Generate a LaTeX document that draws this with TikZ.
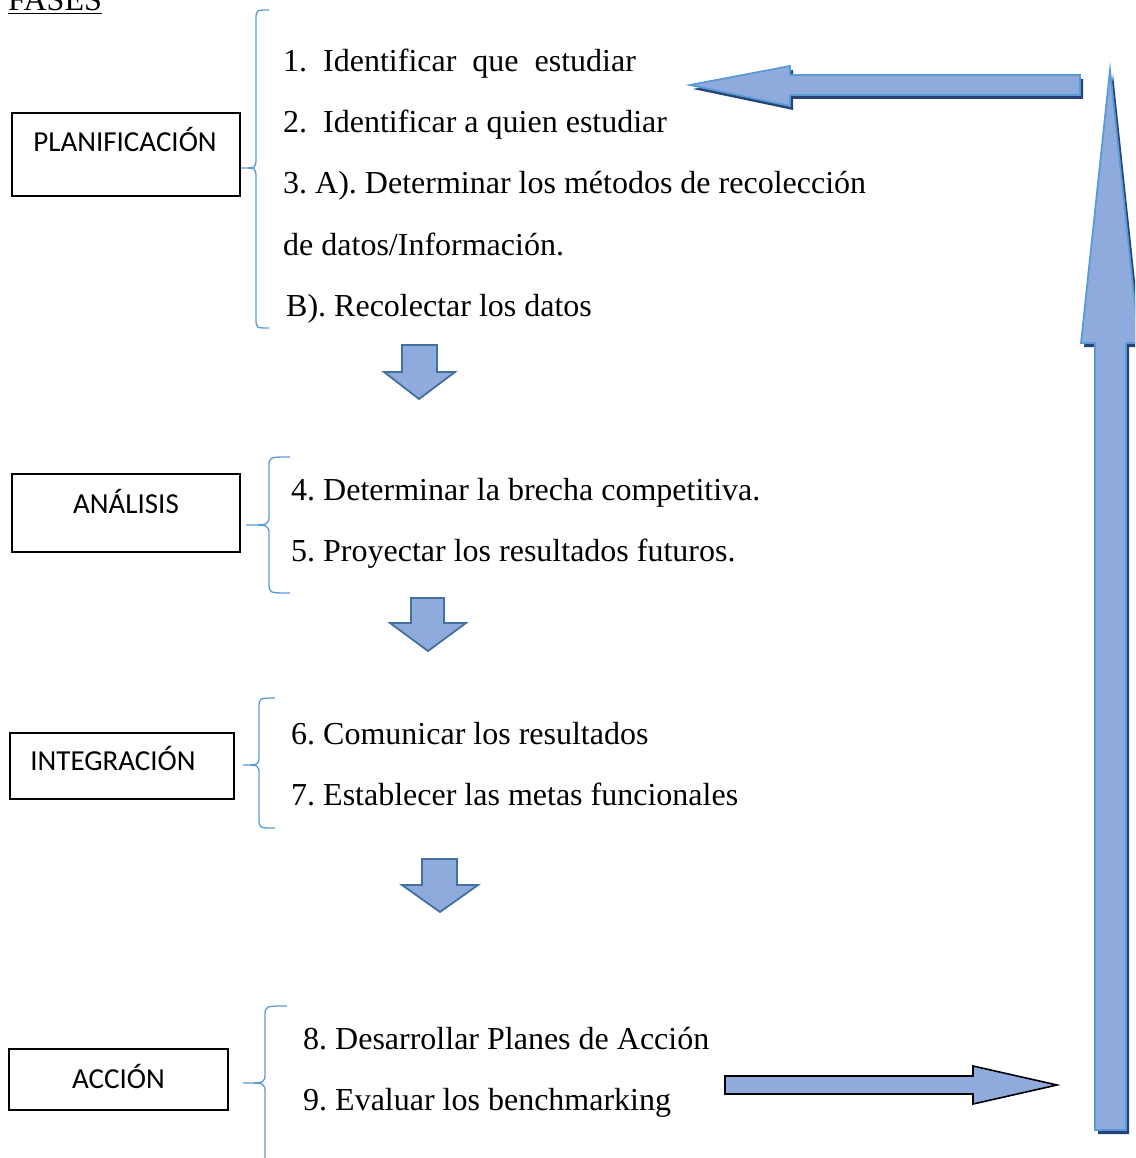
\documentclass[tikz,border=0pt]{standalone}
\usepackage{fontspec}
\setmainfont{Liberation Serif}
\newfontfamily\boxfont{Carlito}
\frenchspacing
\definecolor{arrowfill}{RGB}{143,170,220}
\definecolor{arrowline}{RGB}{91,155,213}
\definecolor{arrowshadow}{RGB}{38,68,120}
\definecolor{downline}{RGB}{65,113,156}
\definecolor{bracecol}{RGB}{91,155,213}
\tikzset{
  phasebox/.style={draw,line width=1.6pt,inner sep=0pt},
  phaselabel/.style={font=\boxfont\fontsize{29}{33}\selectfont,inner sep=0pt,anchor=base},
  steptext/.style={font=\fontsize{32}{36}\selectfont,inner sep=0pt,anchor=base west},
  phasebrace/.style={draw=bracecol,line width=1.3pt},
  downarrow/.style={fill=arrowfill,draw=downline,line width=1.8pt,line join=miter},
  blockarrow/.style={fill=arrowfill,draw=arrowline,line width=1.8pt,line join=miter},
}
\begin{document}
\begin{tikzpicture}[x=1pt,y=-1pt]
  \useasboundingbox (0,0) rectangle (1135,1158);
  \clip (0,0) rectangle (1135,1158);

  \node[font=\fontsize{32}{36}\selectfont,inner sep=0pt,anchor=base west] (fases) at (8,11) {\underline{FASES}};

  % phase boxes
  \node[phasebox,minimum width=228pt,minimum height=83pt] (plan) at (126,154.5) {};
  \node[phaselabel] (plantxt) at (125,152) {PLANIFICACIÓN};
  \node[phasebox,minimum width=228pt,minimum height=78pt] (anal) at (126,513) {};
  \node[phaselabel] (analtxt) at (126,513) {ANÁLISIS};
  \node[phasebox,minimum width=224pt,minimum height=66pt] (integ) at (122,766) {};
  \node[phaselabel] (integtxt) at (113,770) {INTEGRACIÓN};
  \node[phasebox,minimum width=219pt,minimum height=61pt] (accion) at (118.5,1079.5) {};
  \node[phaselabel] (acciontxt) at (118.5,1088) {ACCIÓN};

  % braces
  \draw[phasebrace] (269,10) .. controls (256,10) .. (256,20) -- (256,158) .. controls (256,168) .. (241,168)
    .. controls (256,168) .. (256,178) -- (256,318) .. controls (256,328) .. (269,328);
  \draw[phasebrace] (290,457) .. controls (269,457) .. (269,467) -- (269,515) .. controls (269,525) .. (246,525)
    .. controls (269,525) .. (269,535) -- (269,583) .. controls (269,593) .. (290,593);
  \draw[phasebrace] (275,698) .. controls (259,698) .. (259,708) -- (259,755) .. controls (259,765) .. (243,765)
    .. controls (259,765) .. (259,775) -- (259,818) .. controls (259,828) .. (275,828);
  \draw[phasebrace] (287,1006) .. controls (265,1006) .. (265,1016) -- (265,1073) .. controls (265,1083) .. (243,1083)
    .. controls (265,1083) .. (265,1093) -- (265,1170);

  % steps
  \node[steptext] (s1) at (283,72) {1.\ \ Identificar\ \ que\ \ estudiar};
  \node[steptext] (s2) at (283,133) {2.\ \ Identificar a quien estudiar};
  \node[steptext] (s3a) at (283,194) {3. A). Determinar los métodos de recolección};
  \node[steptext] (s3b) at (283,255) {de datos/Información.};
  \node[steptext] (s3c) at (286,316) {B). Recolectar los datos};
  \node[steptext] (s4) at (291,500) {4. Determinar la brecha competitiva.};
  \node[steptext] (s5) at (291,561) {5. Proyectar los resultados futuros.};
  \node[steptext] (s6) at (291,744) {6. Comunicar los resultados};
  \node[steptext] (s7) at (291,805) {7. Establecer las metas funcionales};
  \node[steptext] (s8) at (303,1049) {8. Desarrollar Planes de Acción};
  \node[steptext] (s9) at (303,1110) {9. Evaluar los benchmarking};

  % down arrows between phases
  \draw[downarrow] (402,345) -- (437,345) -- (437,372) -- (455,372) -- (419,399) -- (384,372) -- (402,372) -- cycle;
  \draw[downarrow] (411,598) -- (444,598) -- (444,623) -- (466,623) -- (428,651) -- (390,623) -- (411,623) -- cycle;
  \draw[downarrow] (422,859) -- (457,859) -- (457,885) -- (478,885) -- (440,912) -- (402,885) -- (422,885) -- cycle;

  % feedback loop
  \fill[arrowshadow] (1083,79) -- (793,79) -- (793,70) -- (693,89) -- (793,110) -- (793,99) -- (1083,99) -- cycle;
  \draw[blockarrow] (1080,75) -- (790,75) -- (790,66) -- (690,85) -- (790,106) -- (790,95) -- (1080,95) -- cycle;
  \fill[arrowshadow] (1113,74) -- (1142,347) -- (1129,347) -- (1129,1134) -- (1098,1134) -- (1098,347) -- (1084,347) -- cycle;
  \draw[blockarrow] (1110,70) -- (1139,343) -- (1126,343) -- (1126,1130) -- (1095,1130) -- (1095,343) -- (1081,343) -- cycle;
  \draw[fill=arrowfill,draw=black,line width=1.6pt,line join=miter] (725,1076) -- (973,1076) -- (973,1066) -- (1057,1085)
    -- (973,1104) -- (973,1094) -- (725,1094) -- cycle;
\end{tikzpicture}
\end{document}
